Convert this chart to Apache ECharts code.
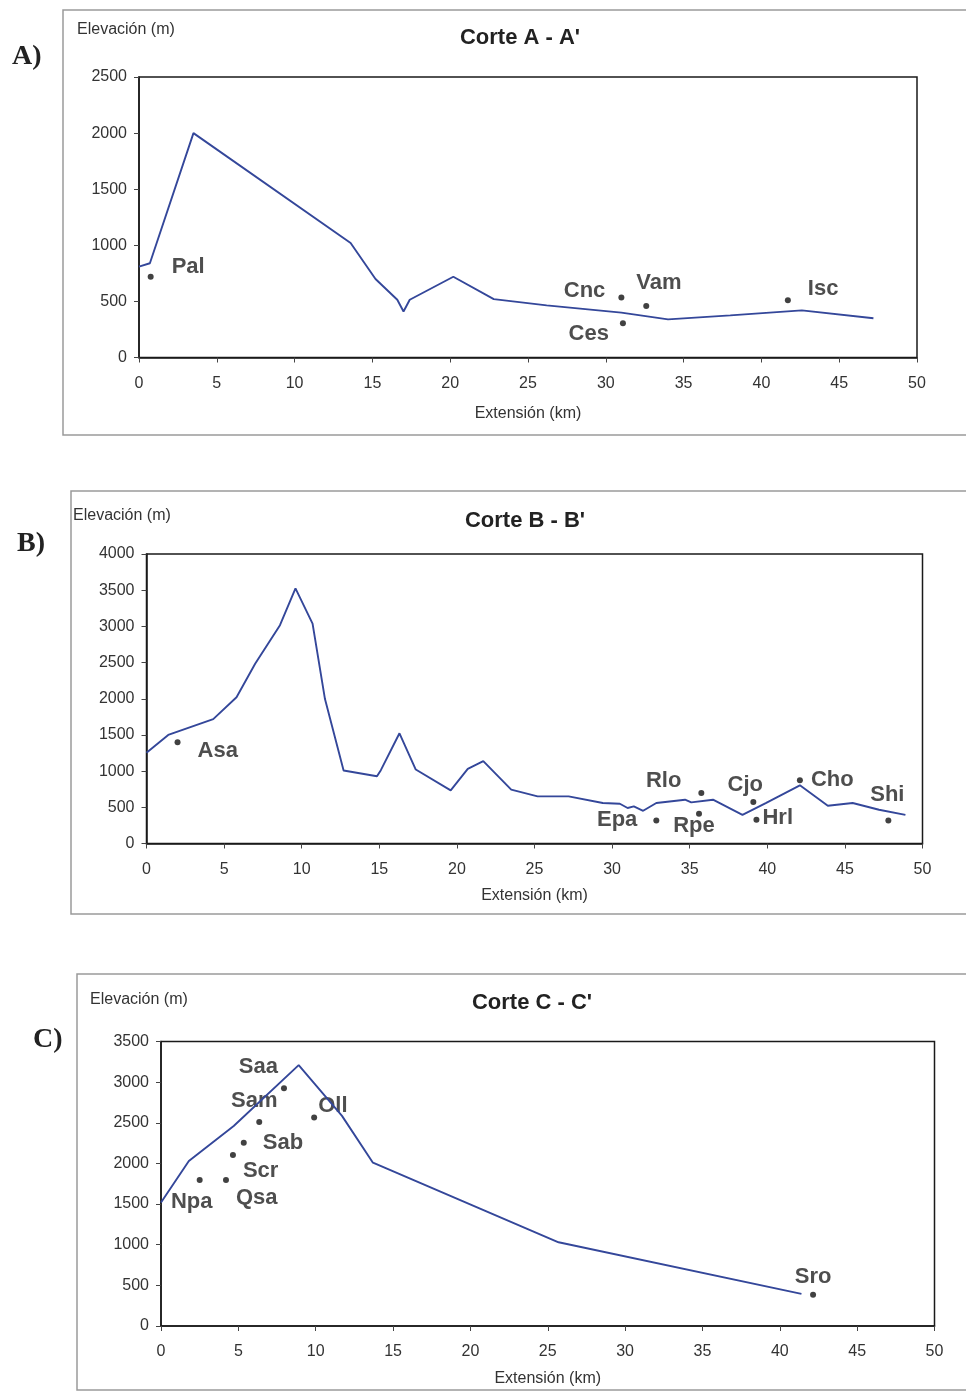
<!DOCTYPE html>
<html>
<head>
<meta charset="utf-8">
<script src="https://cdn.jsdelivr.net/npm/echarts@6/dist/echarts.min.js"></script>
<style>
html,body{margin:0;padding:0;background:#fff;}
#chart{width:966px;height:1392px;}
</style>
</head>
<body>
<div id="chart"></div>
<script>
// ---- Data ----
var xTicks = [0, 5, 10, 15, 20, 25, 30, 35, 40, 45, 50];

// Corte A - A'
var kmA   = [0, 0.7, 3.5, 13.6, 15.2, 16.6, 17.0, 17.4, 20.2, 22.8, 26.2, 31.0, 34.0, 38.0, 42.6, 47.2];
var elevA = [810, 840, 2000, 1020, 700, 515, 410, 515, 720, 520, 465, 400, 340, 375, 420, 350];
var sitesA    = ['Pal', 'Cnc', 'Vam', 'Ces', 'Isc'];
var siteKmA   = [0.75, 31.0, 32.6, 31.1, 41.7];
var siteElevA = [720, 535, 460, 305, 510];

// Corte B - B'
var kmB   = [0, 1.4, 4.3, 5.8, 7.0, 8.6, 9.6, 10.7, 11.5, 12.7, 14.85, 15.1, 16.3, 17.35, 19.6, 20.7, 21.7, 23.5, 25.2, 27.2, 29.4, 30.5, 31.0, 31.4, 32.0, 32.85, 34.7, 35.1, 36.5, 38.4, 39.9, 42.1, 43.9, 45.5, 47.2, 48.9];
var elevB = [1255, 1500, 1718, 2020, 2483, 3016, 3526, 3039, 1996, 1008, 929, 1013, 1523, 1022, 734, 1032, 1138, 744, 651, 651, 559, 549, 490, 512, 452, 559, 605, 568, 605, 396, 559, 804, 521, 559, 466, 396];
var sitesB    = ['Asa', 'Epa', 'Rlo', 'Rpe', 'Cjo', 'Hrl', 'Cho', 'Shi'];
var siteKmB   = [2.0, 32.85, 35.75, 35.6, 39.1, 39.3, 42.1, 47.8];
var siteElevB = [1400, 317, 698, 410, 573, 327, 873, 317];

// Corte C - C'
var kmC   = [0, 1.8, 4.7, 8.9, 11.7, 13.7, 25.7, 41.4];
var elevC = [1520, 2030, 2460, 3210, 2585, 2009, 1030, 395];
var sitesC    = ['Npa', 'Qsa', 'Scr', 'Sab', 'Sam', 'Saa', 'Oll', 'Sro'];
var siteKmC   = [2.5, 4.2, 4.65, 5.35, 6.35, 7.95, 9.9, 42.15];
var siteElevC = [1795, 1795, 2105, 2255, 2510, 2925, 2565, 383];

// ---- Label placement (style only): [align, dx, dy] relative to dot ----
var labelPlace = {
  Pal: ['left', 21, -10], Cnc: ['right', -16, -7], Vam: ['left', -10, -23], Ces: ['right', -14, 11], Isc: ['left', 20, -11],
  Asa: ['left', 20, 9], Epa: ['right', -19, -1], Rlo: ['right', -20, -12], Rpe: ['center', -5, 12], Cjo: ['center', -8, -17],
  Hrl: ['left', 6, -2], Cho: ['left', 11, 0], Shi: ['center', -1, -26],
  Npa: ['center', -8, 22], Qsa: ['left', 10, 18], Scr: ['left', 10, 16], Sab: ['left', 19, 0], Sam: ['center', -5, -21],
  Saa: ['right', -6, -21], Oll: ['left', 4, -12], Sro: ['center', 0, -18]
};

var SANS = "'Liberation Sans', Arial, sans-serif";
var LINE_COLOR = '#34479a';
var SYM = 6;

function zip(xs, ys) { return xs.map(function (x, i) { return [x, ys[i]]; }); }

function siteData(names, kms, elevs) {
  return names.map(function (n, i) {
    var p = labelPlace[n];
    return {
      name: n,
      value: [kms[i], elevs[i]],
      label: {
        show: true,
        formatter: n,
        position: [SYM / 2 + p[1], SYM / 2 + p[2]],
        align: p[0],
        verticalAlign: 'middle'
      }
    };
  });
}

var grids = [
  { left: 139, right: 49, top: 77, bottom: 1034.5 },
  { left: 146.5, right: 43.5, top: 554, bottom: 548.5 },
  { left: 161, right: 31.5, top: 1041.5, bottom: 66 }
];
var yMax = [2500, 4000, 3500];
var nameGaps = [48, 44, 45];

var xAxes = [], yAxes = [];
grids.forEach(function (g, i) {
  g.show = true;
  g.borderColor = '#1a1a1a';
  g.borderWidth = 1.5;
  g.backgroundColor = '#fff';
  xAxes.push({
    gridIndex: i, type: 'value', min: 0, max: 50, interval: 5,
    name: 'Extensión (km)', nameLocation: 'middle', nameGap: nameGaps[i],
    nameTextStyle: { fontFamily: SANS, fontSize: 16, color: '#333' },
    axisLine: { show: true, onZero: false, lineStyle: { color: '#1a1a1a', width: 1.5 } },
    axisTick: { show: true, inside: false, length: 5, lineStyle: { color: '#444' } },
    axisLabel: { fontFamily: SANS, fontSize: 16, color: '#333', margin: 18, formatter: function (v) { return String(v); } },
    splitLine: { show: false }
  });
  yAxes.push({
    gridIndex: i, type: 'value', min: 0, max: yMax[i], interval: 500,
    axisLine: { show: true, lineStyle: { color: '#1a1a1a', width: 1.5 } },
    axisTick: { show: true, inside: false, length: 5, lineStyle: { color: '#444' } },
    axisLabel: { fontFamily: SANS, fontSize: 16, color: '#333', margin: 12, formatter: function (v) { return String(v); } },
    splitLine: { show: false }
  });
});

function lineSeries(i, xs, ys) {
  return {
    type: 'line', xAxisIndex: i, yAxisIndex: i, data: zip(xs, ys),
    showSymbol: false, symbol: 'none', silent: true, animation: false,
    lineStyle: { color: LINE_COLOR, width: 1.9 }
  };
}
function siteSeries(i, names, kms, elevs) {
  return {
    type: 'scatter', xAxisIndex: i, yAxisIndex: i,
    data: siteData(names, kms, elevs),
    symbol: 'circle', symbolSize: SYM, animation: false,
    itemStyle: { color: '#111' },
    label: { fontFamily: SANS, fontSize: 22, fontWeight: 'bold', color: '#222' }
  };
}

var titles = [
  { text: "Corte A - A'", left: 515, top: 35 },
  { text: "Corte B - B'", left: 520, top: 518 },
  { text: "Corte C - C'", left: 527, top: 1000 }
].map(function (t) {
  return {
    text: t.text, left: t.left, top: t.top - 13, textAlign: 'center',
    textStyle: { fontFamily: SANS, fontSize: 22, fontWeight: 'bold', color: '#222' }
  };
});

function txt(x, y, s, style) {
  return { type: 'text', left: x, top: y, style: Object.assign({ text: s, fill: '#333', font: '16px ' + SANS }, style || {}) };
}
function box(x, y, w, h) {
  return { type: 'rect', shape: { x: x, y: y, width: w, height: h }, z: -10,
           style: { fill: '#fff', stroke: '#9a9a9a', lineWidth: 1.5 } };
}

var graphics = [
  box(63, 10, 930, 425),
  box(71, 491, 930, 423),
  box(77, 974, 930, 416),
  txt(77, 22, 'Elevación (m)'),
  txt(73, 508, 'Elevación (m)'),
  txt(90, 992, 'Elevación (m)'),
  txt(12, 43, 'A)', { font: 'bold 28px "Liberation Serif", serif', fill: '#222' }),
  txt(17, 530, 'B)', { font: 'bold 28px "Liberation Serif", serif', fill: '#222' }),
  txt(33, 1026, 'C)', { font: 'bold 28px "Liberation Serif", serif', fill: '#222' })
];

var chart = echarts.init(document.getElementById('chart'), null, { renderer: 'canvas' });
chart.setOption({
  backgroundColor: '#fff',
  animation: false,
  title: titles,
  grid: grids,
  xAxis: xAxes,
  yAxis: yAxes,
  graphic: graphics,
  series: [
    lineSeries(0, kmA, elevA), siteSeries(0, sitesA, siteKmA, siteElevA),
    lineSeries(1, kmB, elevB), siteSeries(1, sitesB, siteKmB, siteElevB),
    lineSeries(2, kmC, elevC), siteSeries(2, sitesC, siteKmC, siteElevC)
  ]
});
</script>
</body>
</html>
